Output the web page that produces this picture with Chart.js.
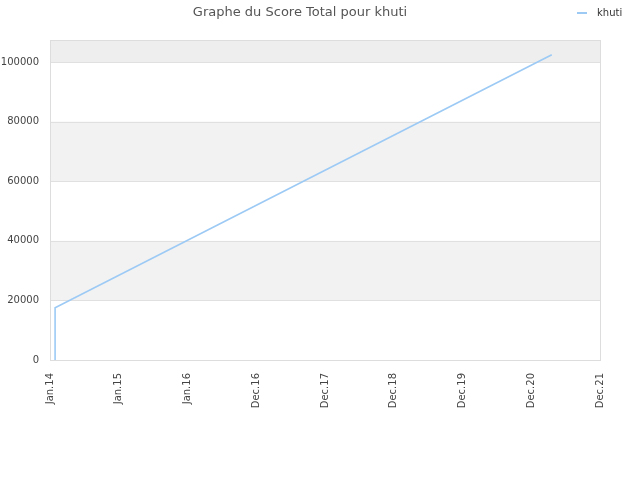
<!DOCTYPE html>
<html>
<head>
<meta charset="utf-8">
<script src="https://cdn.jsdelivr.net/npm/chart.js@4/dist/chart.umd.min.js"></script>
<style>
  html, body { margin: 0; padding: 0; background: #fff; }
</style>
</head>
<body>
<canvas id="chart" width="640" height="480"></canvas>
<script>
// Valeurs (x en jours depuis le 1er janvier 2014)
const SERIE = 'khuti';
const JOURS = [27, 27, 2664];
const SCORES = [0, 17550, 102450];
const TICK_JOURS = [0, 365, 730, 1095, 1460, 1825, 2190, 2555, 2920];
const TICK_LABELS = ['Jan.14', 'Jan.15', 'Jan.16', 'Dec.16', 'Dec.17', 'Dec.18', 'Dec.19', 'Dec.20', 'Dec.21'];
const Y_TICKS = [0, 20000, 40000, 60000, 80000, 100000];

const LIGNE = '#9ccaf5';
const POLICE = 'DejaVu Sans';

// bandes grises alternées + cadre du graphe
const bandes = {
  id: 'bandes',
  beforeDatasetsDraw(chart) {
    const { ctx, chartArea: a, scales: { y } } = chart;
    ctx.save();
    const bornes = Y_TICKS.concat([y.max]);
    for (let i = 0; i < bornes.length - 1; i++) {
      if (i % 2 === 0) continue;
      const haut = y.getPixelForValue(bornes[i + 1]);
      const bas = y.getPixelForValue(bornes[i]);
      ctx.fillStyle = i === bornes.length - 2 ? '#eeeeee' : '#f2f2f2';
      ctx.fillRect(a.left, haut, a.right - a.left, bas - haut);
    }
    ctx.strokeStyle = '#e0e0e0';
    ctx.lineWidth = 1;
    Y_TICKS.forEach((v) => {
      const p = Math.round(y.getPixelForValue(v)) + 0.5;
      ctx.beginPath();
      ctx.moveTo(a.left, p);
      ctx.lineTo(a.right, p);
      ctx.stroke();
    });
    ctx.strokeStyle = '#dddddd';
    ctx.strokeRect(Math.round(a.left) + 0.5, Math.round(a.top) + 0.5, Math.round(a.right - a.left), Math.round(a.bottom - a.top));
    ctx.restore();
  },
  afterDraw(chart) {
    const { ctx } = chart;
    ctx.save();
    ctx.strokeStyle = LIGNE;
    ctx.lineWidth = 2;
    ctx.beginPath();
    ctx.moveTo(577, 13);
    ctx.lineTo(587, 13);
    ctx.stroke();
    ctx.fillStyle = '#333';
    ctx.font = '10px "' + POLICE + '"';
    ctx.textBaseline = 'middle';
    ctx.fillText(SERIE, 597, 13);
    ctx.restore();
  },
};

new Chart(document.getElementById('chart'), {
  type: 'line',
  data: {
    datasets: [{
      label: SERIE,
      data: JOURS.map((j, i) => ({ x: j, y: SCORES[i] })),
      borderColor: LIGNE,
      borderWidth: 1.6,
      pointRadius: 0,
      fill: false,
      tension: 0,
    }],
  },
  options: {
    responsive: false,
    animation: false,
    devicePixelRatio: 1,
    layout: { padding: { left: 0, right: 40, top: 0, bottom: 0 } },
    plugins: {
      legend: { display: false },
      tooltip: { enabled: false },
      title: {
        display: true,
        text: 'Graphe du Score Total pour khuti',
        color: '#555',
        font: { family: POLICE, size: 13, weight: 'normal' },
        padding: { top: 5, bottom: 19.4 },
      },
    },
    scales: {
      x: {
        type: 'linear',
        min: 0,
        max: 2920,
        afterBuildTicks: (axis) => { axis.ticks = TICK_JOURS.map((v) => ({ value: v })); },
        afterFit: (axis) => { axis.height = 120; },
        grid: { display: false, drawTicks: false },
        border: { display: false },
        ticks: {
          autoSkip: false,
          minRotation: 90,
          maxRotation: 90,
          padding: 13,
          color: '#444',
          font: { family: POLICE, size: 10 },
          callback: (v) => TICK_LABELS[TICK_JOURS.indexOf(v)],
        },
      },
      y: {
        min: 0,
        max: 107400,
        afterBuildTicks: (axis) => { axis.ticks = Y_TICKS.map((v) => ({ value: v })); },
        afterFit: (axis) => { axis.width = 50; },
        grid: { display: false, drawTicks: false },
        border: { display: false },
        ticks: {
          padding: 11,
          color: '#444',
          font: { family: POLICE, size: 10 },
          callback: (v) => String(v),
        },
      },
    },
  },
  plugins: [bandes],
});
</script>
</body>
</html>
